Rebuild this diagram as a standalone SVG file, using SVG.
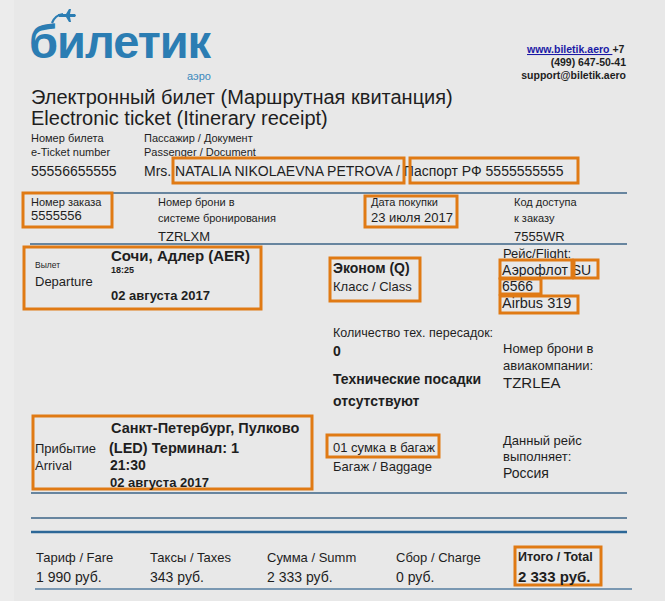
<svg xmlns="http://www.w3.org/2000/svg" width="665" height="601" viewBox="0 0 665 601">
<style>
text{font-family:"Liberation Sans",Arial,sans-serif;fill:#1e1e1e}
.s{font-size:11px}
.m{font-size:13px}
.l{font-size:14px}
.b{font-weight:bold}
.hl{fill:none;stroke:#e07a14;stroke-width:3}
.dv{stroke:#3d6487;stroke-width:1.3}
</style>
<rect x="0" y="0" width="665" height="601" fill="#e8e8e8"/>
<rect x="0" y="0" width="14" height="601" fill="#ececec"/>

<g id="logo">
<text x="29" y="58" style="font-size:47px;font-weight:bold;fill:#2b7db3;letter-spacing:-1px">билетик</text>
<text x="187" y="80" style="font-size:11px;fill:#3a88bd">аэро</text>
<path d="M52 23 Q55 15 63 14" fill="none" stroke="#2b7db3" stroke-width="2.2"/>
<path d="M58 14 L66 14 L69 9 L71 9 L70 14 L75 14 L76 15.5 L75 17 L70 17 L71 22 L69 22 L66 17 L59 17 Z" fill="#2b7db3"/>
</g>

<g id="contacts">
<text x="527" y="53" style="font-size:10.5px;font-weight:bold"><tspan style="fill:#1a1aa6;text-decoration:underline">www.biletik.aero </tspan>+7</text>
<text x="626" y="66" text-anchor="end" style="font-size:10.5px;font-weight:bold">(499) 647-50-41</text>
<text x="626" y="79" text-anchor="end" style="font-size:10.5px;font-weight:bold">support@biletik.aero</text>
</g>

<g id="title">
<text x="31" y="104" style="font-size:20px">Электронный билет (Маршрутная квитанция)</text>
<text x="31" y="125" style="font-size:20px">Electronic ticket (Itinerary receipt)</text>
</g>

<g id="ticket-number">
<text x="31" y="142" class="s">Номер билета</text>
<text x="31" y="156" class="s">e-Ticket number</text>
<text x="31" y="176" class="l">55556655555</text>
</g>

<g id="passenger">
<text x="144" y="142" class="s">Пассажир / Документ</text>
<text x="144" y="156" class="s">Passenger / Document</text>
<text x="144" y="176" class="l">Mrs. NATALIA NIKOLAEVNA PETROVA / Паспорт РФ 5555555555</text>
<rect x="173" y="158" width="231" height="25" class="hl"/>
<rect x="410" y="158" width="168" height="25" class="hl"/>
</g>

<g id="dividers">
<line x1="30" y1="193" x2="627" y2="193" class="dv"/>
<line x1="30" y1="244" x2="627" y2="244" class="dv"/>
<line x1="31" y1="493" x2="627" y2="493" class="dv"/>
<line x1="31" y1="518" x2="627" y2="518" class="dv"/>
<line x1="31" y1="532" x2="627" y2="532" stroke="#2c6797" stroke-width="2.5"/>
<line x1="35" y1="589" x2="632" y2="589" stroke="#7a98b2" stroke-width="2"/>
</g>

<g id="order-number">
<text x="31" y="206" class="s">Номер заказа</text>
<text x="31" y="220" class="m">5555556</text>
<rect x="23" y="193" width="89" height="34" class="hl"/>
</g>

<g id="booking-number">
<text x="158" y="206" class="s">Номер брони в</text>
<text x="158" y="222" class="s">системе бронирования</text>
<text x="158" y="241" class="m">TZRLXM</text>
</g>

<g id="purchase-date">
<text x="371" y="206" class="s">Дата покупки</text>
<text x="371" y="222" class="m">23 июля 2017</text>
<rect x="365" y="196" width="92" height="31" class="hl"/>
</g>

<g id="access-code">
<text x="514" y="206" class="s">Код доступа</text>
<text x="514" y="222" class="s">к заказу</text>
<text x="514" y="241" class="m">7555WR</text>
</g>

<g id="departure">
<rect x="24" y="247" width="237" height="62" class="hl"/>
<text x="35" y="268" style="font-size:8.5px">Вылет</text>
<text x="35" y="286" class="m">Departure</text>
<text x="111" y="261" style="font-size:15px;font-weight:bold">Сочи, Адлер (AER)</text>
<text x="111" y="273" style="font-size:9px;font-weight:bold">18:25</text>
<text x="111" y="300" class="m b">02 августа 2017</text>
</g>

<g id="class">
<rect x="330" y="258" width="90" height="43" class="hl"/>
<text x="333" y="273" class="l b">Эконом (Q)</text>
<text x="333" y="291" class="m">Класс / Class</text>
</g>

<g id="flight">
<text x="503" y="258" class="m">Рейс/Flight:</text>
<text x="502" y="275" class="l">Аэрофлот SU</text>
<text x="502" y="291" class="l">6566</text>
<text x="502" y="308" style="font-size:14.5px">Airbus 319</text>
<rect x="500" y="260" width="72" height="18" class="hl"/>
<rect x="574" y="260" width="24" height="18" class="hl"/>
<rect x="500" y="279" width="41" height="15" class="hl"/>
<rect x="500" y="296" width="78" height="17" class="hl"/>
</g>

<g id="transfers">
<text x="333" y="337" style="font-size:12.5px">Количество тех. пересадок:</text>
<text x="333" y="356" class="l b">0</text>
<text x="333" y="384" class="l b">Технические посадки</text>
<text x="333" y="406" class="l b">отсутствуют</text>
</g>

<g id="airline-booking">
<text x="503" y="353" class="m">Номер брони в</text>
<text x="503" y="370" class="m">авиакомпании:</text>
<text x="503" y="388" style="font-size:15px">TZRLEA</text>
</g>

<g id="arrival">
<rect x="33" y="416" width="279" height="73" class="hl"/>
<text x="111" y="433" style="font-size:14.5px;font-weight:bold">Санкт-Петербург, Пулково</text>
<text x="35" y="453" class="m">Прибытие</text>
<text x="109" y="453" style="font-size:14.5px;font-weight:bold">(LED) Терминал: 1</text>
<text x="35" y="470" class="m">Arrival</text>
<text x="110" y="470" class="l b">21:30</text>
<text x="110" y="487" class="m b">02 августа 2017</text>
</g>

<g id="baggage">
<rect x="327" y="435" width="112" height="22" class="hl"/>
<text x="333" y="452" class="m">01 сумка в багаж</text>
<text x="333" y="471" class="m">Багаж / Baggage</text>
</g>

<g id="operator">
<text x="503" y="445" class="m">Данный рейс</text>
<text x="503" y="461" class="m">выполняет:</text>
<text x="503" y="478" style="font-size:14px">Россия</text>
</g>

<g id="fare">
<text x="36" y="562" class="m">Тариф / Fare</text>
<text x="36" y="582" class="l">1 990 руб.</text>
</g>
<g id="taxes">
<text x="150" y="562" class="m">Таксы / Taxes</text>
<text x="150" y="582" class="l">343 руб.</text>
</g>
<g id="summ">
<text x="267" y="562" class="m">Сумма / Summ</text>
<text x="267" y="582" class="l">2 333 руб.</text>
</g>
<g id="charge">
<text x="396" y="562" class="m">Сбор / Charge</text>
<text x="396" y="582" class="l">0 руб.</text>
</g>
<g id="total">
<rect x="515" y="547" width="86" height="38" class="hl"/>
<text x="518" y="561" style="font-size:12.5px;font-weight:bold">Итого / Total</text>
<text x="518" y="582" style="font-size:15px;font-weight:bold">2 333 руб.</text>
</g>
</svg>
